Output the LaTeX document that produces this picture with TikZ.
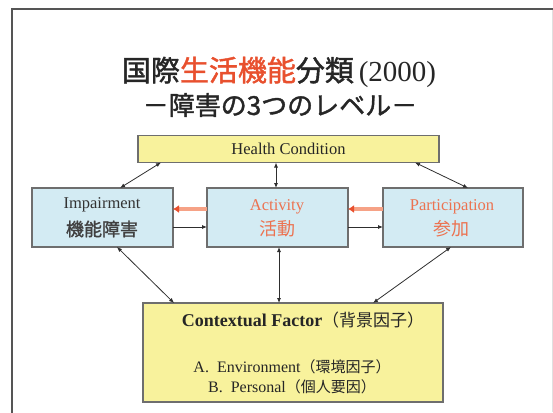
\documentclass[tikz,border=0pt]{standalone}
\usepackage{fontspec}
\setmainfont{Liberation Serif}
\newfontfamily\cjk{Noto Sans CJK JP}
\newfontfamily\cjkm[FakeBold=1.5]{Noto Sans CJK JP}
\usetikzlibrary{arrows.meta}
\definecolor{frameC}{HTML}{555555}
\definecolor{hcY}{HTML}{F8F29C}
\definecolor{boxB}{HTML}{D3EBF3}
\definecolor{edgeC}{HTML}{6E6E6E}
\definecolor{redT}{HTML}{E8502E}
\definecolor{orT}{HTML}{EC7250}
\definecolor{orL}{HTML}{F6A286}
\definecolor{arC}{HTML}{2E2E2E}
\definecolor{titC}{HTML}{262626}
\tikzset{
  box/.style={draw=edgeC, line width=1.3pt, inner sep=0pt, outer sep=0pt},
  yel/.style={box, fill=hcY},
  blu/.style={box, fill=boxB},
  lab/.style={inner sep=0pt, align=center},
  bi/.style={arC, line width=0.8pt, {Latex[length=5pt,width=4pt]}-{Latex[length=5pt,width=4pt]}},
  blk/.style={arC, line width=0.8pt, -{Latex[length=5pt,width=4pt]}},
  ora/.style={orL, line width=3.2pt, -{Latex[length=6pt,width=8pt,color=redT]}},
}
\begin{document}
\begin{tikzpicture}[x=1pt,y=-1pt]
\useasboundingbox (0,0) rectangle (553,412);
% frame
\draw[frameC, line width=2.6pt] (12,420) -- (12,9) -- (560,9);
\draw[black!12, line width=0.8pt] (552,10) -- (552,412);
% title
\node[lab, text=titC] (t1) at (279,72) {\cjkm\fontsize{29}{32}\selectfont 国際\textcolor{redT}{生活機能}分類\,\rmfamily(2000)};
\node[lab, text=titC] (t2) at (280,105) {\cjkm\fontsize{26}{30}\selectfont －障害の3つのレベル－};
% boxes
\node[yel, minimum width=301pt, minimum height=27pt] (hc) at (288.5,149) {};
\node[lab, text=black!85] at (hc.center) {\fontsize{16.5}{18}\selectfont Health Condition};
\node[blu, minimum width=141pt, minimum height=59pt] (imp) at (102.5,217.5) {};
\node[lab, text=black!80] at (102,205) {\fontsize{16.5}{18}\selectfont Impairment};
\node[lab] at (102,229) {\cjkm\fontsize{18}{20}\selectfont\color{black!75} 機能障害};
\node[blu, minimum width=141pt, minimum height=59pt] (act) at (277.5,217.5) {};
\node[lab] at (277,207) {\fontsize{16.5}{18}\selectfont\color{orT} Activity};
\node[lab] at (277,229) {\cjk\fontsize{18}{20}\selectfont\color{orT} 活動};
\node[blu, minimum width=140pt, minimum height=59pt] (par) at (453,217.5) {};
\node[lab] at (452,207) {\fontsize{16.5}{18}\selectfont\color{orT} Participation};
\node[lab] at (451,229) {\cjk\fontsize{18}{20}\selectfont\color{orT} 参加};
\node[yel, minimum width=300pt, minimum height=99pt] (ctx) at (293,352.5) {};
\node[lab, text=black!85] at (303,320) {\fontsize{18}{20}\selectfont\bfseries Contextual Factor\cjk\mdseries\fontsize{17}{20}\selectfont（背景因子）};
\node[lab, text=black!85] at (292,367) {\fontsize{16}{18}\selectfont A.\ \ Environment\cjk\fontsize{15}{18}\selectfont（環境因子）};
\node[lab, text=black!85] at (292,387) {\fontsize{16}{18}\selectfont B.\ \ Personal\cjk\fontsize{15}{18}\selectfont（個人要因）};
% coordinates for connectors
\coordinate (hcA) at (161,162.5);
\coordinate (impA) at (120,188);
\coordinate (hcB) at (276,162.5);
\coordinate (actA) at (276,188);
\coordinate (hcC) at (415,162.5);
\coordinate (parA) at (468,188);
\coordinate (impB) at (117,247);
\coordinate (ctxA) at (174,303);
\coordinate (actB) at (279,247);
\coordinate (ctxB) at (279,303);
\coordinate (parB) at (451,247);
\coordinate (ctxC) at (373,303);
\draw[bi] (hcA) -- (impA);
\draw[bi] (hcB) -- (actA);
\draw[bi] (hcC) -- (parA);
\draw[bi] (impB) -- (ctxA);
\draw[bi] (actB) -- (ctxB);
\draw[bi] (parB) -- (ctxC);
% horizontal arrows
\draw[ora] (act.west |- 0,209) -- (imp.east |- 0,209);
\draw[ora] (par.west |- 0,209) -- (act.east |- 0,209);
\draw[blk] (imp.east |- 0,227) -- (act.west |- 0,227);
\draw[blk] (act.east |- 0,227) -- (par.west |- 0,227);
\end{tikzpicture}
\end{document}
